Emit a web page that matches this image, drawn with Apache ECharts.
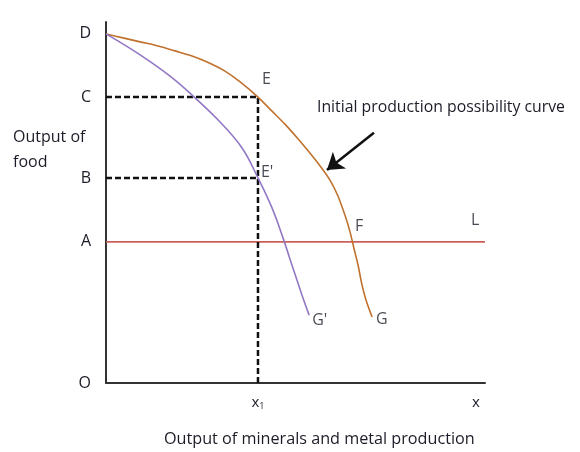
<!DOCTYPE html>
<html>
<head>
<meta charset="utf-8">
<script src="https://cdn.jsdelivr.net/npm/echarts@6/dist/echarts.min.js"></script>
<style>html,body{margin:0;padding:0;background:#fff}#c{width:580px;height:452px}</style>
</head>
<body>
<div id="c"></div>
<script>
// Initial production possibility curve D-E-F-G (x: minerals/metal, y: food)
const initialCurve = [[0,96.7],[4.5,95.6],[9.0,94.5],[13.5,93.4],[18.2,92.0],[22.7,90.6],[27.4,88.6],[31.4,86.4],[35.4,83.4],[40.1,79.2],[43.8,75.3],[47.2,71.7],[50.7,67.6],[53.8,63.7],[56.5,60.1],[59.1,56.2],[61.2,51.8],[63.1,46.3],[64.4,41.8],[65.4,37.4],[66.5,32.7],[67.5,27.4],[68.6,23.0],[70.2,18.3]];
// New production possibility curve D-E'-G'
const newCurve = [[0,96.7],[9.0,90.9],[16.9,85.0],[23.5,79.0],[30.1,72.3],[35.9,65.1],[40.1,56.8],[43.8,48.5],[46.7,40.2],[49.3,31.9],[51.7,24.4],[53.6,18.8]];
// Levels on the food axis
const levelNames = ['O','A','B','C','D'];
const levelValues = [0, 39.1, 56.8, 79.2, 96.7];
// x-axis marks
const xMarkNames = ['x1','x'];
const xMarkValues = [40.1, 97.6];
// Minimum food line A-L
const lineAL = [[0,39.1],[100,39.1]];
// Dashed guides
const guideC = [[0,79.2],[40.1,79.2],[40.1,0]];
const guideB = [[0,56.8],[40.1,56.8]];
// Point labels
const pointNames = ['E','E\'','F','L','G','G\''];
const pointCoords = [[40.1,79.2],[40.1,56.8],[65.2,39.1],[100,39.1],[70.2,18.3],[53.6,18.8]];
// Arrow pointing to initial curve
const arrowFrom = [70.7,69.3];
const arrowTo = [58.3,59.0];

const font = '"Open Sans", sans-serif';
const txt = '#1c1c28';
const labelOffsets = {'E':[4,-18],'E\'':[3,-6],'F':[2,-15],'L':[-14,-21],'G':[4,3],'G\'':[3,5]};

const chart = echarts.init(document.getElementById('c'), null, {renderer:'canvas'});
chart.setOption({
  animation:false,
  grid:{left:106,right:95,top:22,bottom:69},
  xAxis:{type:'value',min:0,max:100,
    axisLine:{show:true,onZero:false,lineStyle:{color:'#333',width:2}},
    axisTick:{show:false},splitLine:{show:false},
    axisLabel:{customValues:xMarkValues,margin:12,color:txt,fontFamily:font,fontSize:15,
      formatter:function(v){const i=xMarkValues.indexOf(v);const n=xMarkNames[i];return n==='x1'?'{a|x}{b|1}':n;},
      rich:{a:{fontFamily:font,fontSize:15,color:txt},b:{fontFamily:font,fontSize:9,color:txt,verticalAlign:'bottom',padding:[7,0,0,0]}}}
  },
  yAxis:{type:'value',min:0,max:100,
    axisLine:{show:true,onZero:false,lineStyle:{color:'#333',width:2}},
    axisTick:{show:false},splitLine:{show:false},
    axisLabel:{customValues:levelValues,margin:15,color:txt,fontFamily:font,fontSize:16,
      formatter:function(v){return levelNames[levelValues.indexOf(v)];}}
  },
  series:[
    {type:'line',data:initialCurve,smooth:0.3,symbol:'none',lineStyle:{color:'#c0712d',width:1.6},z:3},
    {type:'line',data:newCurve,smooth:0.4,symbol:'none',lineStyle:{color:'#9278c4',width:1.6},z:3},
    {type:'line',data:lineAL,symbol:'none',lineStyle:{color:'#cd5f5b',width:1.6},z:2},
    {type:'line',data:guideC,symbol:'none',lineStyle:{color:'#111',width:2.5,type:[6,3]},z:2},
    {type:'line',data:guideB,symbol:'none',lineStyle:{color:'#111',width:2.5,type:[6,3]},z:2},
    {type:'lines',coordinateSystem:'cartesian2d',polyline:false,
      data:[{coords:[arrowFrom,arrowTo]}],
      symbol:['none','arrow'],symbolSize:16,
      lineStyle:{color:'#111',width:2.5,opacity:1},z:4},
    {type:'scatter',symbolSize:0,z:5,
      data:pointNames.map(function(n,i){return {name:n,value:pointCoords[i],
        label:{show:true,position:'inside',align:'left',verticalAlign:'middle',offset:labelOffsets[n],
          formatter:n,color:txt,fontFamily:font,fontSize:16}};})
    }
  ],
  graphic:[
    {type:'text',left:317,top:99,style:{text:'Initial production possibility curve',font:'15.8px '+font,fill:txt}},
    {type:'text',left:13,top:125,style:{text:'Output of\nfood',font:'16px '+font,fill:txt,lineHeight:25}},
    {type:'text',left:164,top:431,style:{text:'Output of minerals and metal production',font:'16.2px '+font,fill:txt}}
  ]
});
</script>
</body>
</html>
